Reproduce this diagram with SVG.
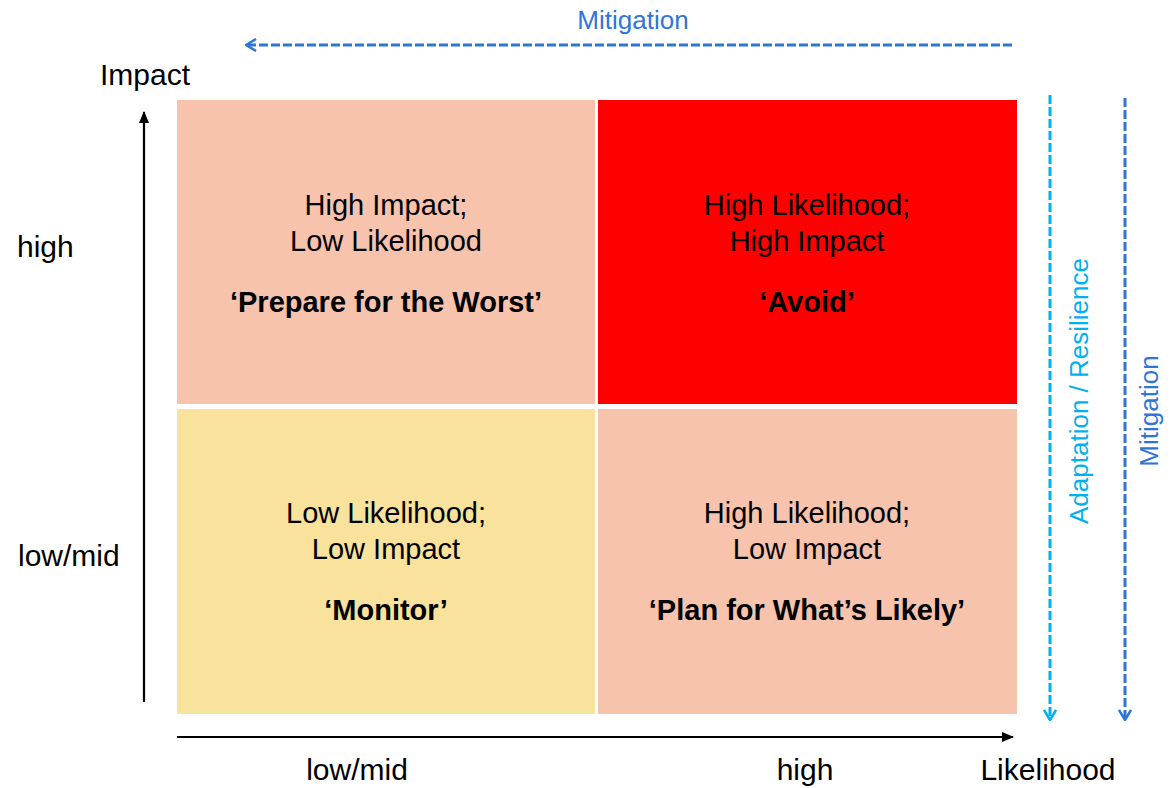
<svg xmlns="http://www.w3.org/2000/svg" width="1173" height="788" viewBox="0 0 1173 788">
  <style>
    text { font-family: "Liberation Sans", Arial, sans-serif; fill: #000; }
    .cell { font-size: 29px; text-anchor: middle; }
    .title { font-size: 29px; font-weight: bold; text-anchor: middle; }
    .axis { font-size: 30px; }
    .axis-mid { font-size: 30px; text-anchor: middle; }
    .note { font-size: 26px; text-anchor: middle; }
    .blue { fill: #2e75d6; }
    .cyan { fill: #00b0f0; }
  </style>
  <defs>
    <marker id="blackHead" viewBox="0 0 12 10" refX="11" refY="5" markerWidth="12" markerHeight="10" markerUnits="userSpaceOnUse" orient="auto">
      <path d="M0,0 L12,5 L0,10 Z" fill="#000"/>
    </marker>
    <marker id="blueHead" viewBox="0 0 12 14" refX="11" refY="7" markerWidth="12" markerHeight="14" markerUnits="userSpaceOnUse" orient="auto">
      <path d="M1,1 L11,7 L1,13" fill="none" stroke="#2e75d6" stroke-width="2.5"/>
    </marker>
    <marker id="cyanHead" viewBox="0 0 12 14" refX="11" refY="7" markerWidth="12" markerHeight="14" markerUnits="userSpaceOnUse" orient="auto">
      <path d="M1,1 L11,7 L1,13" fill="none" stroke="#00b0f0" stroke-width="2.5"/>
    </marker>
  </defs>

  <rect width="1173" height="788" fill="#fff"/>

  <!-- quadrants -->
  <g id="q-prepare">
    <rect x="177" y="100" width="418" height="304" fill="#f8c3ad"/>
    <text class="cell" x="386" y="215">High Impact;</text>
    <text class="cell" x="386" y="251">Low Likelihood</text>
    <text class="title" x="386" y="312">‘Prepare for the Worst’</text>
  </g>
  <g id="q-avoid">
    <rect x="598" y="100" width="419" height="304" fill="#ff0000"/>
    <text class="cell" x="807" y="215">High Likelihood;</text>
    <text class="cell" x="807" y="251">High Impact</text>
    <text class="title" x="807" y="312">‘Avoid’</text>
  </g>
  <g id="q-monitor">
    <rect x="177" y="409" width="418" height="305" fill="#f9e29b"/>
    <text class="cell" x="386" y="523">Low Likelihood;</text>
    <text class="cell" x="386" y="559">Low Impact</text>
    <text class="title" x="386" y="620">‘Monitor’</text>
  </g>
  <g id="q-plan">
    <rect x="598" y="409" width="419" height="305" fill="#f8c3ad"/>
    <text class="cell" x="807" y="523">High Likelihood;</text>
    <text class="cell" x="807" y="559">Low Impact</text>
    <text class="title" x="807" y="620">‘Plan for What’s Likely’</text>
  </g>

  <!-- axis labels -->
  <g id="labels">
    <text class="axis" x="100" y="85">Impact</text>
    <text class="axis" x="17" y="257">high</text>
    <text class="axis" x="18" y="566">low/mid</text>
    <text class="axis-mid" x="357" y="780">low/mid</text>
    <text class="axis-mid" x="805" y="780">high</text>
    <text class="axis-mid" x="1048" y="780">Likelihood</text>
    <text class="note blue" x="633" y="29">Mitigation</text>
    <text class="note cyan" transform="translate(1088,391) rotate(-90)">Adaptation / Resilience</text>
    <text class="note blue" transform="translate(1158,411) rotate(-90)">Mitigation</text>
  </g>

  <!-- connectors -->
  <g id="connectors" fill="none">
    <line x1="144" y1="702" x2="144" y2="112" stroke="#000" stroke-width="2.2" marker-end="url(#blackHead)"/>
    <line x1="177" y1="737" x2="1013" y2="737" stroke="#000" stroke-width="2.2" marker-end="url(#blackHead)"/>
    <line x1="1012" y1="45" x2="246" y2="45" stroke="#2e75d6" stroke-width="3" stroke-dasharray="9,3" marker-end="url(#blueHead)"/>
    <line x1="1050" y1="95" x2="1050" y2="720" stroke="#00b0f0" stroke-width="3" stroke-dasharray="9,3" marker-end="url(#cyanHead)"/>
    <line x1="1125" y1="98" x2="1125" y2="720" stroke="#2e75d6" stroke-width="3" stroke-dasharray="9,3" marker-end="url(#blueHead)"/>
  </g>
</svg>
